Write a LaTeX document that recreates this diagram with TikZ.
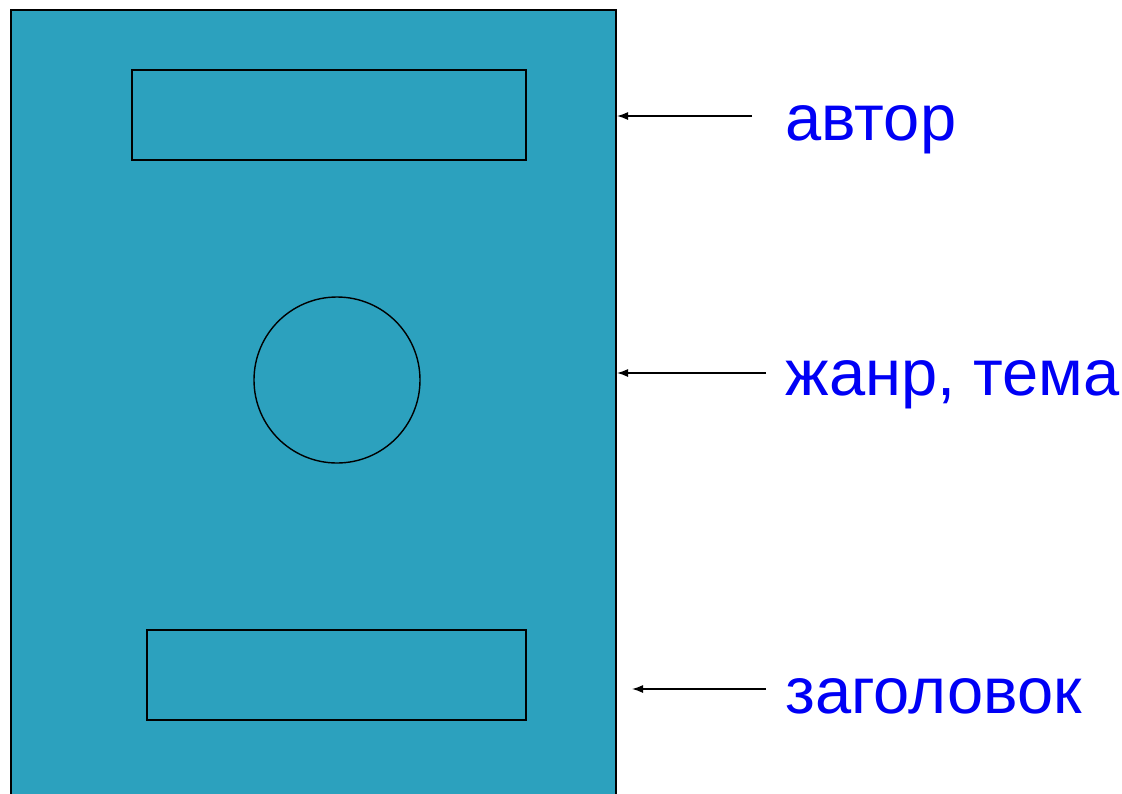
\documentclass[tikz,border=0pt]{standalone}
\usepackage{fontspec}
\setmainfont{Liberation Sans}
\usetikzlibrary{arrows.meta}
\definecolor{cover}{RGB}{44,161,190}
\definecolor{lblue}{RGB}{0,0,245}
\tikzset{
  boxline/.style={draw=black, line width=1.4pt},
  pointer/.style={draw=black, line width=1.4pt, -{Latex[length=11pt,width=8pt]}},
  lbl/.style={anchor=base west, inner sep=0pt, text=lblue, font=\fontsize{65}{71}\selectfont}
}
\begin{document}
\begin{tikzpicture}[x=1pt,y=-1pt]
\useasboundingbox (0,0) rectangle (1122,793);
\filldraw[boxline, fill=cover] (11,10) rectangle (616,800);
\node[boxline, rectangle, minimum width=394pt, minimum height=90pt, inner sep=0pt] (author) at (329,115) {};
\node[boxline, circle, minimum size=166pt, inner sep=0pt] (genre) at (337,380) {};
\node[boxline, rectangle, minimum width=379pt, minimum height=90pt, inner sep=0pt] (title) at (336.5,675) {};
\node[lbl] (tA) at (785.5,140) {автор};
\node[lbl] (tG) at (785.5,395) {жанр, тема};
\node[lbl] (tT) at (785.5,713) {заголовок};
\coordinate (a1) at (752,116);
\coordinate (a2) at (617,116);
\coordinate (g1) at (766,373);
\coordinate (g2) at (617,373);
\coordinate (t1) at (766,689);
\coordinate (t2) at (632,689);
\draw[pointer] (a1) -- (a2);
\draw[pointer] (g1) -- (g2);
\draw[pointer] (t1) -- (t2);
\end{tikzpicture}
\end{document}
